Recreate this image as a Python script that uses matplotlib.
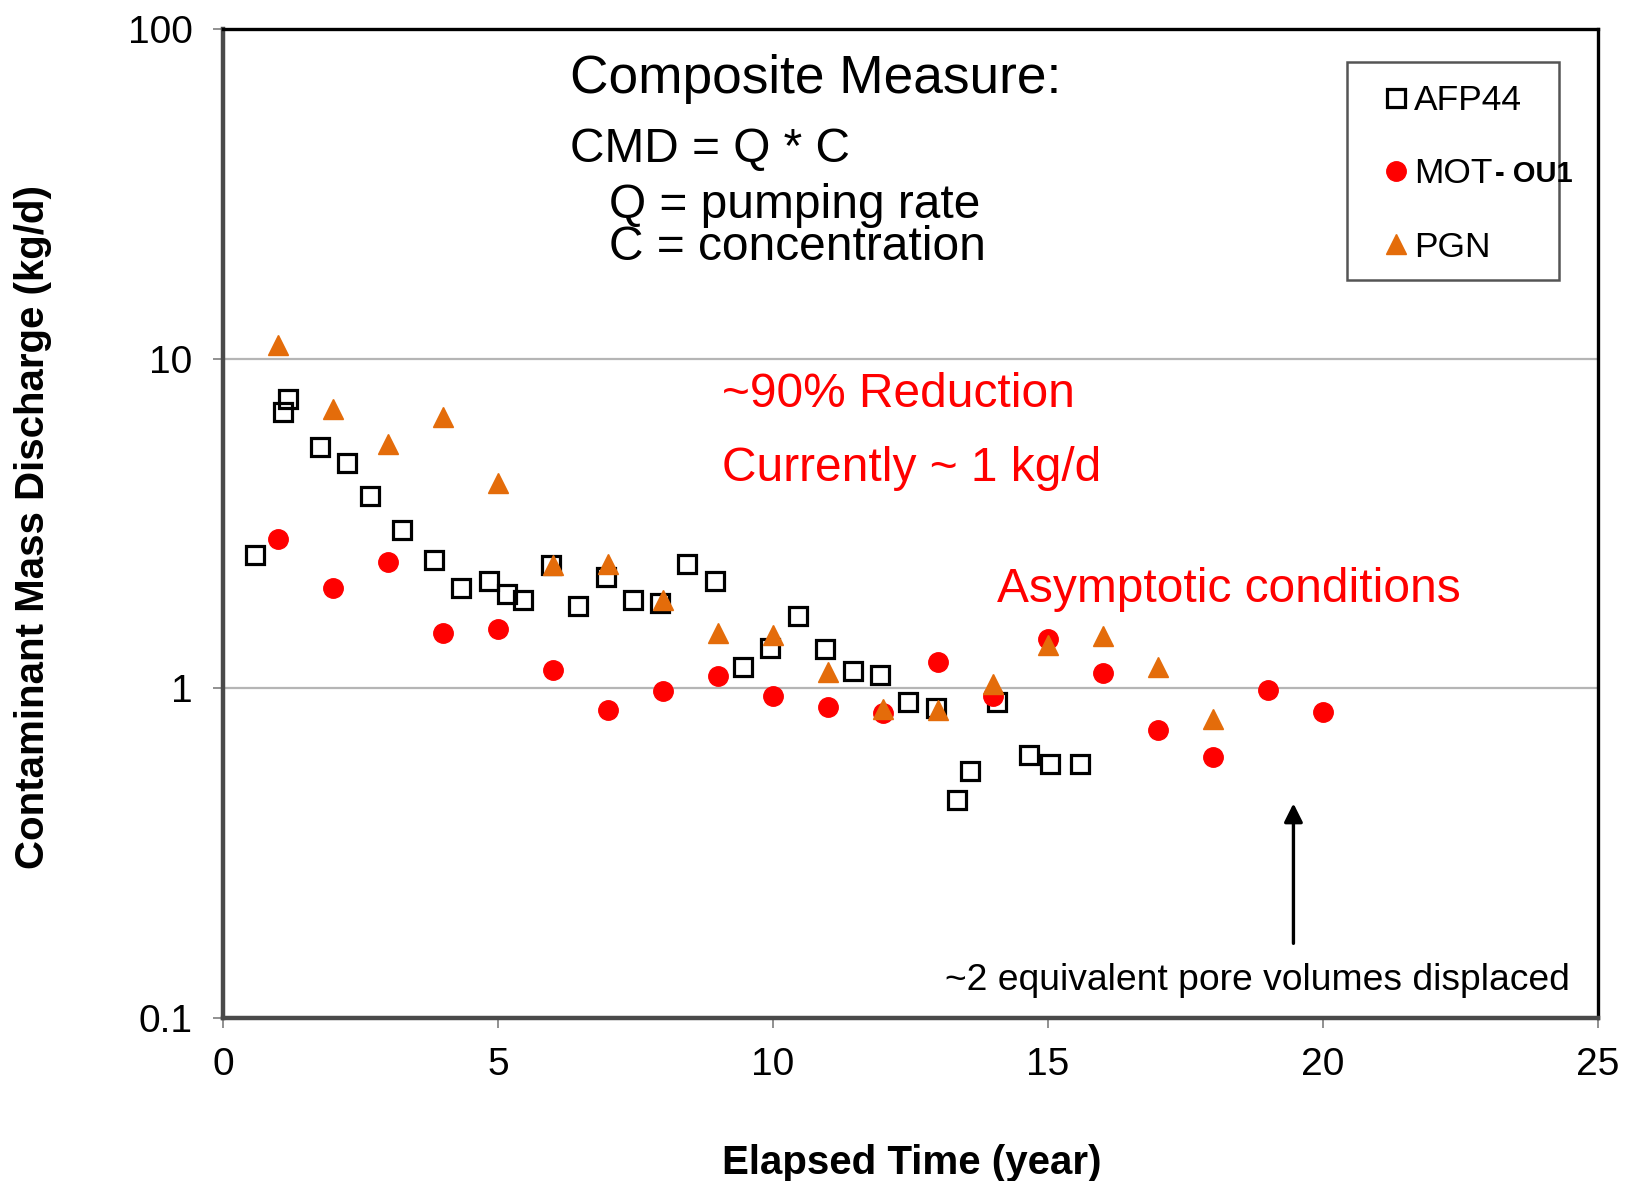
import matplotlib.pyplot as plt

plt.rcParams['font.family'] = ['Liberation Sans', 'DejaVu Sans']

# Composite mass discharge (kg/d) against elapsed time (years)
afp44_t = [0.58, 1.09, 1.19, 1.77, 2.26, 2.68, 3.26, 3.84, 4.33, 4.84, 5.16, 5.46,
           5.97, 6.46, 6.97, 7.46, 7.95, 8.44, 8.95, 9.46, 9.95, 10.46, 10.95, 11.45,
           11.94, 12.45, 12.96, 13.34, 13.58, 14.07, 14.66, 15.03, 15.58]
afp44_cmd = [2.53, 6.9, 7.54, 5.4, 4.81, 3.82, 3.03, 2.45, 2.02, 2.12, 1.93, 1.86,
             2.37, 1.78, 2.17, 1.86, 1.81, 2.38, 2.12, 1.16, 1.33, 1.66, 1.32, 1.13,
             1.10, 0.91, 0.87, 0.457, 0.56, 0.91, 0.63, 0.59, 0.59]

mot_t = [1, 2, 3, 4, 5, 6, 7, 8, 9, 10, 11, 12, 13, 14, 15, 16, 17, 18, 19, 20]
mot_cmd = [2.84, 2.02, 2.42, 1.47, 1.51, 1.14, 0.86, 0.98, 1.09, 0.95, 0.88, 0.84,
           1.2, 0.95, 1.41, 1.11, 0.75, 0.62, 0.99, 0.85]

pgn_t = [1, 2, 3, 4, 5, 6, 7, 8, 9, 10, 11, 12, 13, 14, 15, 16, 17, 18]
pgn_cmd = [11.0, 7.06, 5.52, 6.67, 4.2, 2.37, 2.38, 1.86, 1.47, 1.45, 1.12, 0.865,
           0.86, 1.03, 1.35, 1.44, 1.16, 0.805]

orange = '#E46C0A'

fig = plt.figure(figsize=(16.25, 11.81), dpi=100)
ax = fig.add_axes([0.1372, 0.138, 0.8462, 0.8374])

ax.plot(afp44_t, afp44_cmd, 's', ms=13.5, mfc='none', mec='black', mew=2.3,
        label='AFP44', zorder=3)
ax.plot(mot_t, mot_cmd, 'o', ms=14, color='red', mec='red', label='MOT', zorder=4)
ax.plot(pgn_t, pgn_cmd, '^', ms=15, color=orange, mec=orange, label='PGN', zorder=5)

ax.set_yscale('log')
ax.set_ylim(0.1, 100)
ax.set_xlim(0, 25)
ax.set_xticks([0, 5, 10, 15, 20, 25])
ax.set_yticks([0.1, 1, 10, 100])
ax.set_yticklabels(['0.1', '1', '10', '100'])
ax.minorticks_off()
ax.yaxis.grid(True, color='#b5b5b5', lw=1.6)
ax.set_axisbelow(True)

ax.tick_params(axis='both', direction='out', length=7, width=1.3, color='#888888',
               labelsize=28)
ax.tick_params(axis='y', pad=15)
ax.tick_params(axis='x', pad=14)

for side in ['top', 'right']:
    ax.spines[side].set_color('black')
    ax.spines[side].set_linewidth(2.4)
for side in ['left', 'bottom']:
    ax.spines[side].set_color('#4a4a4a')
    ax.spines[side].set_linewidth(3.2)

ax.set_xlabel('Elapsed Time (year)', fontsize=29, fontweight='bold')
ax.xaxis.set_label_coords(0.501, -0.127)
ax.set_ylabel('Contaminant Mass Discharge (kg/d)', fontsize=29, fontweight='bold')
ax.yaxis.set_label_coords(-0.1243, 0.497)

# annotations
ax.text(0.2525, 0.935, 'Composite Measure:', transform=ax.transAxes, fontsize=38.3)
ax.text(0.2525, 0.866, 'CMD = Q * C', transform=ax.transAxes, fontsize=34.5)
ax.text(0.281, 0.809, 'Q = pumping rate', transform=ax.transAxes, fontsize=34.5)
ax.text(0.281, 0.766, 'C = concentration', transform=ax.transAxes, fontsize=34.5)
ax.text(0.3632, 0.618, '~90% Reduction', transform=ax.transAxes, fontsize=34.5,
        color='red')
ax.text(0.3632, 0.543, 'Currently ~ 1 kg/d', transform=ax.transAxes, fontsize=34.5,
        color='red')
ax.text(0.563, 0.421, 'Asymptotic conditions', transform=ax.transAxes, fontsize=34.5,
        color='red')
ax.text(0.525, 0.0283, '~2 equivalent pore volumes displaced', transform=ax.transAxes,
        fontsize=26.8)
ax.annotate('', xy=(0.7785, 0.217), xytext=(0.7785, 0.0755),
            xycoords='axes fraction', textcoords='axes fraction',
            arrowprops=dict(arrowstyle='-|>', color='black', lw=2.4,
                            mutation_scale=28, shrinkA=0, shrinkB=0))

# legend with a hand-drawn frame
leg = ax.legend(loc='upper left', bbox_to_anchor=(0.8455, 0.9445), borderaxespad=0,
                borderpad=0, frameon=False, fontsize=25.5, handlelength=0.6,
                handletextpad=0.2, labelspacing=1.14)
box = plt.Rectangle((0.8176, 0.7463), 0.1538, 0.2202, transform=ax.transAxes,
                    fill=False, edgecolor='#555555', lw=1.8, zorder=6)
ax.add_patch(box)

fig.canvas.draw()
mot_label = leg.get_texts()[1]
bb = mot_label.get_window_extent()
x0, y0 = ax.transAxes.inverted().transform((bb.x1, bb.y0))
ax.text(x0 + 0.002, y0 + 0.008, '- OU1', transform=ax.transAxes, fontsize=21,
        fontweight='bold', zorder=7)

fig.savefig('out.png', dpi=100)
